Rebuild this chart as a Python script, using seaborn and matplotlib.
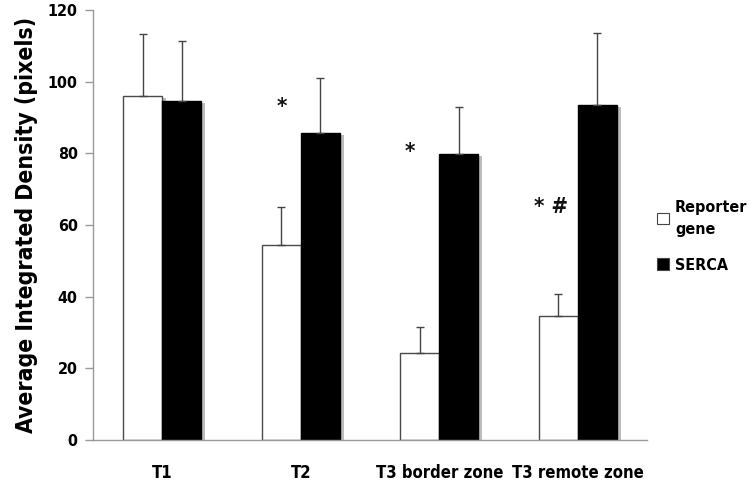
import matplotlib
matplotlib.use("Agg")
import matplotlib.pyplot as plt
import matplotlib.patheffects as pe
import numpy as np
import pandas as pd
import seaborn as sns

categories = ["T1", "T2", "T3 border zone", "T3 remote zone"]
groups = ["Reporter\ngene", "SERCA"]
reporter_mean = [95.9, 54.4, 24.4, 34.7]
reporter_err = [17.3, 10.5, 7.1, 6.0]
serca_mean = [94.5, 85.8, 79.7, 93.6]
serca_err = [16.8, 15.1, 13.3, 20.0]
yticks = [0, 20, 40, 60, 80, 100, 120]
annotation_texts = ["*", "*", "* #"]
annotation_cats = [1, 2, 3]
annotation_y = [93, 80.5, 65]

df = pd.DataFrame({
    "category": categories * 2,
    "group": [groups[0]] * 4 + [groups[1]] * 4,
    "value": reporter_mean + serca_mean,
    "err": reporter_err + serca_err,
})

sns.set_theme(style="white")
plt.rcParams["font.family"] = ["DejaVu Sans"]
plt.rcParams["font.stretch"] = "condensed"
plt.rcParams["text.color"] = "black"
plt.rcParams["axes.labelcolor"] = "black"
plt.rcParams["xtick.labelcolor"] = "black"
plt.rcParams["ytick.labelcolor"] = "black"

fig = plt.figure(figsize=(7.52, 4.87), dpi=100)
ax = fig.add_axes([93 / 752, 1 - 440 / 487, (647 - 93) / 752, 430 / 487])

sns.barplot(data=df, x="category", y="value", hue="group", order=categories,
            hue_order=groups, palette=["white", "black"], width=0.56,
            errorbar=None, ax=ax, legend=True, saturation=1)

shadow = [pe.SimplePatchShadow(offset=(3, -1.5), shadow_rgbFace="#888888", alpha=0.55), pe.Normal()]
for cont, g in zip(ax.containers, groups):
    sub = df[df["group"] == g].set_index("category").loc[categories]
    xs, tops = [], []
    for bar in cont:
        bar.set_edgecolor("#4a4a4a" if g == groups[0] else "black")
        bar.set_linewidth(1.0)
        bar.set_path_effects(shadow)
        xs.append(bar.get_x() + bar.get_width() / 2)
        tops.append(bar.get_height())
    ax.errorbar(xs, tops, yerr=[np.zeros(len(xs)), sub["err"].values], fmt="none",
                ecolor="#444444", elinewidth=1.0, capsize=3, capthick=1.0, zorder=1)

x_shift = [-0.135, -0.21, -0.19]
for txt, xi, yv, dx in zip(annotation_texts, annotation_cats, annotation_y, x_shift):
    ax.text(xi + dx, yv, txt, ha="center", va="center", fontsize=16,
            fontweight="bold", color="#111111")

ax.set_ylim(0, 120)
ax.set_xlim(-0.5, 3.5)
ax.set_yticks(yticks)
ax.set_yticklabels([str(v) for v in yticks], fontsize=11.5, fontweight="bold")
ax.set_xticks(range(4))
ax.set_xticklabels(categories, fontsize=12, fontweight="bold")
ax.set_xticks(np.arange(-0.5, 4.0, 1.0), minor=True)
ax.tick_params(axis="x", which="major", length=0, pad=17)
ax.tick_params(axis="x", which="minor", length=5, color="#999999", width=1, direction="out")
ax.tick_params(axis="y", length=6, color="#999999", width=1, direction="out", pad=5, left=True)
ax.set_xlabel("")
ax.set_ylabel("Average Integrated Density (pixels)", fontsize=16.5, fontweight="bold", labelpad=7)
for s in ["top", "right"]:
    ax.spines[s].set_visible(False)
for s in ["left", "bottom"]:
    ax.spines[s].set_color("#999999")
    ax.spines[s].set_linewidth(1)
ax.grid(False)

handles, labels = ax.get_legend_handles_labels()
ax.get_legend().remove()
leg = fig.legend(handles, labels, loc="center left", bbox_to_anchor=(0.870, 0.515),
                 frameon=False, prop={"weight": "bold", "size": 11.5, "stretch": "condensed"},
                 handlelength=0.7, handleheight=0.7, handletextpad=0.4,
                 labelspacing=1.3, borderpad=0.2, borderaxespad=0.0)
for t in leg.get_texts():
    t.set_linespacing(1.6)
for h in leg.legend_handles:
    h.set_edgecolor("#444444")
    h.set_linewidth(0.8)
    h.set_path_effects([])

fig.savefig("out.png", dpi=100)
